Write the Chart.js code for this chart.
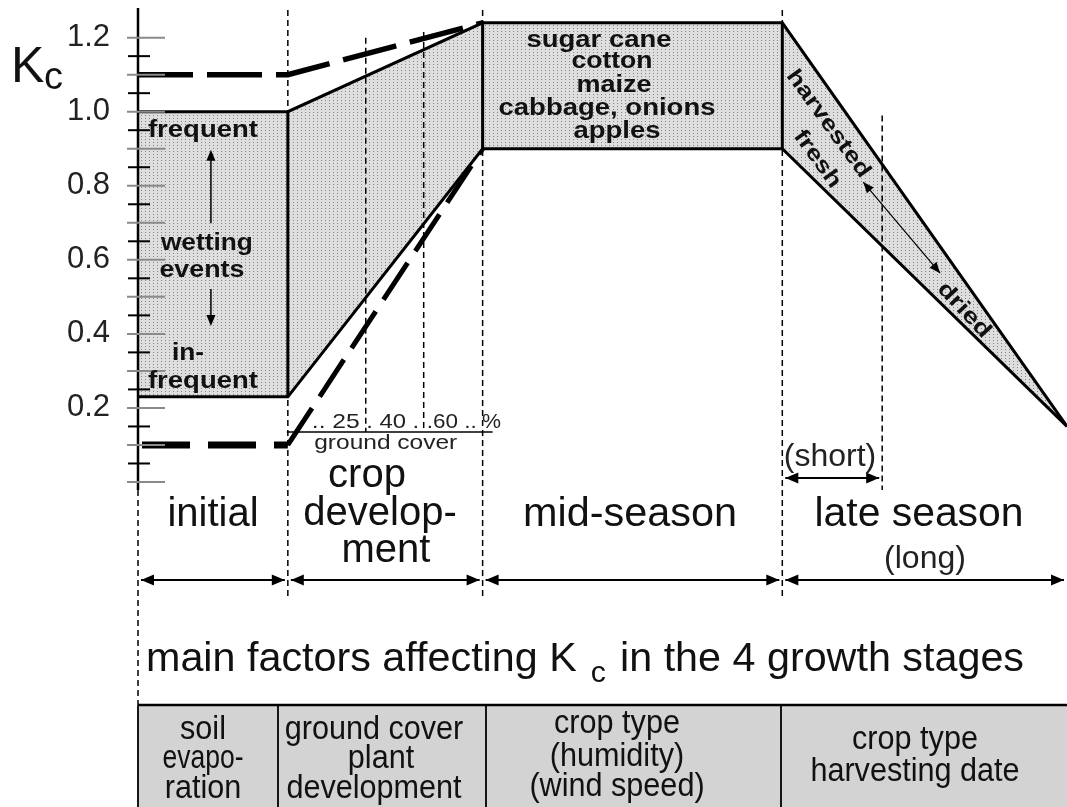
<!DOCTYPE html>
<html>
<head>
<meta charset="utf-8">
<script src="https://cdn.jsdelivr.net/npm/chart.js@4.4.1/dist/chart.umd.min.js"></script>
<style>
  html, body { margin: 0; padding: 0; background: #fff; }
  #wrap { width: 1067px; height: 807px; position: relative; }
</style>
</head>
<body>
<div id="wrap"><canvas id="kc"></canvas></div>
<script>
// --- data (x in arbitrary season units, y = Kc) ---
const stageEdges = [0, 15, 34.5, 64.5, 93];
const shortLateEnd = 74.5;
const kcTopX = [0, 15, 34.5, 64.5, 93];
const kcTop  = [1.00, 1.00, 1.24, 1.24, 0.15];
const kcBotX = [0, 15, 34.5, 64.5, 93];
const kcBot  = [0.23, 0.23, 0.90, 0.90, 0.15];
const wetDashX = [0, 15, 34.5];
const wetDash  = [1.10, 1.10, 1.24];
const dryDashX = [0, 15];
const dryDash  = [0.10, 0.10];
const dryRiseX = [15, 34.5];
const dryRise  = [0.10, 0.90];
const coverX = [22.8, 28.6, 34.5];
const coverLabels = ['.. 25', '. 40 .', '.60 ..', '%'];
const yTickLabels = ['0.2', '0.4', '0.6', '0.8', '1.0', '1.2'];
const stageLabels = [['initial'], ['crop', 'develop-', 'ment'], ['mid-season'], ['late season']];
const midCrops = ['sugar cane', 'cotton', 'maize', 'cabbage, onions', 'apples'];
const factorRows = [
  ['soil', 'evapo-', 'ration'],
  ['ground cover', 'plant', 'development'],
  ['crop type', '(humidity)', '(wind speed)'],
  ['crop type', 'harvesting date']
];

const FONT = '"Liberation Sans", Arial, Helvetica, sans-serif';

// --- drawing helpers ---
function txt(ctx, s, x, y, size, o) {
  o = o || {};
  ctx.save();
  ctx.font = (o.bold ? 'bold ' : '') + size + 'px ' + FONT;
  ctx.fillStyle = o.color || '#111';
  ctx.textBaseline = o.baseline || 'alphabetic';
  const w = ctx.measureText(s).width;
  const sx = o.width ? o.width / w : (o.sx || 1);
  ctx.translate(x, y);
  if (o.rot) ctx.rotate(o.rot);
  ctx.scale(sx, 1);
  const a = o.align || 'center';
  ctx.fillText(s, a === 'center' ? -w / 2 : a === 'right' ? -w : 0, 0);
  ctx.restore();
}

function seg(ctx, x1, y1, x2, y2, w, color, dash) {
  ctx.save();
  ctx.beginPath();
  ctx.lineWidth = w;
  ctx.strokeStyle = color || '#000';
  ctx.setLineDash(dash || []);
  ctx.moveTo(x1, y1);
  ctx.lineTo(x2, y2);
  ctx.stroke();
  ctx.restore();
}

function head(ctx, x, y, ang, len, half) {
  ctx.save();
  ctx.translate(x, y);
  ctx.rotate(ang);
  ctx.beginPath();
  ctx.moveTo(0, 0);
  ctx.lineTo(-len, -half);
  ctx.lineTo(-len, half);
  ctx.closePath();
  ctx.fillStyle = '#000';
  ctx.fill();
  ctx.restore();
}

function dbl(ctx, x1, y1, x2, y2, w, len, half) {
  seg(ctx, x1, y1, x2, y2, w);
  const a = Math.atan2(y2 - y1, x2 - x1);
  head(ctx, x2, y2, a, len, half);
  head(ctx, x1, y1, a + Math.PI, len, half);
}

function dots() {
  const c = document.createElement('canvas');
  c.width = 4; c.height = 3;
  const g = c.getContext('2d');
  g.fillStyle = '#dedede';
  g.fillRect(0, 0, 4, 3);
  g.fillStyle = '#858585';
  g.fillRect(1, 1, 1, 1);
  return g.createPattern(c, 'repeat');
}

// --- annotations, axis, stage labels, table ---
const kcDrawing = {
  id: 'kcDrawing',
  afterDatasetsDraw(chart) {
    const ctx = chart.ctx, area = chart.chartArea;
    const xs = chart.scales.x, ys = chart.scales.y;
    const X = v => xs.getPixelForValue(v);
    const Y = v => ys.getPixelForValue(v);
    const ax = X(0);
    const DASH = [6, 4];

    // dashed dividers
    stageEdges.slice(1, 4).forEach(e => seg(ctx, X(e), 10, X(e), 600, 1.5, '#000', DASH));
    seg(ctx, X(shortLateEnd), Y(0.99), X(shortLateEnd), 490, 1.5, '#000', DASH);
    seg(ctx, X(coverX[0]), Y(1.2), X(coverX[0]), Y(0.135), 1.5, '#000', DASH);
    seg(ctx, X(coverX[1]), Y(1.215), X(coverX[1]), Y(0.135), 1.5, '#000', DASH);

    // y axis with crossing ticks
    seg(ctx, ax, area.top, ax, area.bottom + 8, 2.5);
    seg(ctx, ax, area.bottom + 8, ax, 706, 1.5, '#000', DASH);
    ys.ticks.forEach(t => {
      const n = t.value * 20;
      if (Math.abs(n - Math.round(n)) > 1e-6) return;
      const y = Y(t.value);
      if (Math.round(n) % 2 === 0) seg(ctx, ax - 11, y, ax + 27, y, 2, '#8a8a8a');
      else seg(ctx, ax - 10, y, ax + 12, y, 2, '#000');
    });
    yTickLabels.forEach(l => txt(ctx, l, ax - 28, Y(parseFloat(l)), 31, { align: 'right', baseline: 'middle', color: '#222' }));
    txt(ctx, 'K', 11, 82, 50, { align: 'left' });
    txt(ctx, 'c', 44, 89, 38, { align: 'left' });

    // initial stage notes
    txt(ctx, 'frequent', X(6.5), Y(0.932), 23, { bold: true, width: 110 });
    txt(ctx, 'wetting', X(6.9), Y(0.627), 23, { bold: true, width: 92 });
    txt(ctx, 'events', X(6.4), Y(0.554), 23, { bold: true, width: 85 });
    txt(ctx, 'in-', X(5.0), Y(0.329), 23, { bold: true, width: 32 });
    txt(ctx, 'frequent', X(6.5), Y(0.254), 23, { bold: true, width: 110 });
    seg(ctx, X(7.3), Y(0.699), X(7.3), Y(0.87), 1.5);
    head(ctx, X(7.3), Y(0.897), -Math.PI / 2, 11, 4.5);
    seg(ctx, X(7.3), Y(0.521), X(7.3), Y(0.45), 1.5);
    head(ctx, X(7.3), Y(0.421), Math.PI / 2, 11, 4.5);

    // mid-season crops
    const midPos = [[46.15, 1.175, 145], [47.45, 1.118, 81], [47.65, 1.053, 75], [46.95, 0.991, 217], [47.95, 0.929, 87]];
    midCrops.forEach((c, i) => txt(ctx, c, X(midPos[i][0]), Y(midPos[i][1]), 23, { bold: true, width: midPos[i][2] }));

    // late season notes
    const r54 = 54 * Math.PI / 180, r47 = 47 * Math.PI / 180;
    txt(ctx, 'harvested', X(69.1), Y(0.967), 22, { bold: true, width: 128, rot: r54, baseline: 'middle' });
    txt(ctx, 'fresh', X(68.0), Y(0.872), 22, { bold: true, width: 66, rot: r54, baseline: 'middle' });
    txt(ctx, 'dried', X(82.7), Y(0.464), 22, { bold: true, width: 68, rot: r47, baseline: 'middle' });
    dbl(ctx, X(72.6), Y(0.81), X(80.3), Y(0.564), 1.2, 11, 4.5);

    // ground cover scale
    seg(ctx, X(14.9), Y(0.135), X(35.5), Y(0.135), 1.5);
    const coverPos = [[19.8, 48], [25.5, 53], [31.4, 50], [35.4, 19]];
    coverLabels.forEach((l, i) => txt(ctx, l, X(coverPos[i][0]), Y(0.146), 21, { width: coverPos[i][1], color: '#222' }));
    txt(ctx, 'ground cover', X(24.8), Y(0.089), 21, { width: 143, color: '#222' });

    // stage names
    txt(ctx, stageLabels[0][0], 213, 526, 40);
    txt(ctx, stageLabels[1][0], 367, 487, 40);
    txt(ctx, stageLabels[1][1], 380, 525, 40);
    txt(ctx, stageLabels[1][2], 386, 562, 40);
    txt(ctx, stageLabels[2][0], 630, 526, 40, { width: 214 });
    txt(ctx, stageLabels[3][0], 919, 526, 40, { width: 209 });
    txt(ctx, '(long)', 925, 568, 32, { color: '#222' });
    txt(ctx, '(short)', 830, 466, 32, { color: '#222' });
    dbl(ctx, X(stageEdges[3]) + 3, 478, X(shortLateEnd) - 3, 478, 2, 13, 5.5);
    for (let i = 0; i < 4; i++) {
      dbl(ctx, X(stageEdges[i]) + 3, 580, X(stageEdges[i + 1]) - 3, 580, 2, 13, 5.5);
    }

    // title with subscript, squeezed to the reference width
    ctx.save();
    const a = 'main factors affecting K', b = 'c', c = 'in the 4 growth stages';
    ctx.font = '41px ' + FONT;
    const wa = ctx.measureText(a).width, wc = ctx.measureText(c).width;
    ctx.font = '30px ' + FONT;
    const wb = ctx.measureText(b).width;
    const gap = 14;
    const sx = 878 / (wa + wb + wc + 2 * gap);
    ctx.translate(146, 671);
    ctx.scale(sx, 1);
    ctx.fillStyle = '#111';
    ctx.font = '41px ' + FONT;
    ctx.fillText(a, 0, 0);
    ctx.fillText(c, wa + gap + wb + gap, 0);
    ctx.font = '30px ' + FONT;
    ctx.fillText(b, wa + gap, 11);
    ctx.restore();

    // factor table
    const cols = [ax, 278, 486, 781, chart.width];
    ctx.fillStyle = '#d3d3d3';
    ctx.fillRect(ax, 706, cols[4] - ax, chart.height - 706);
    seg(ctx, ax, 705, cols[4], 705, 2.5, '#000');
    cols.slice(0, 4).forEach(x => seg(ctx, x, 706, x, chart.height, 1.8, '#000'));
    const cellX = [[203, 203, 203], [374, 381, 374], [617, 617, 617], [915, 915]];
    const cellY = [[739, 768, 798], [739, 768, 798], [733, 766, 796], [749, 781]];
    factorRows.forEach((rows, i) => rows.forEach((r, j) =>
      txt(ctx, r, cellX[i][j], cellY[i][j], 34, i === 0 && j === 1 ? { width: 81 } : { sx: 0.9 })));
  }
};

// --- chart ---
const pts = (xv, yv) => xv.map((x, i) => ({ x: x, y: yv[i] }));
const base = { pointRadius: 0, tension: 0, clip: false, borderColor: '#000' };

const edgeSets = [1, 2, 3].map(i => Object.assign({}, base, {
  label: 'edge ' + i,
  data: [{ x: kcTopX[i], y: kcBot[i] }, { x: kcTopX[i], y: kcTop[i] }],
  borderWidth: 3, fill: false, order: 0
}));

new Chart(document.getElementById('kc'), {
  type: 'line',
  data: {
    datasets: [
      Object.assign({}, base, { label: 'Kc upper', data: pts(kcTopX, kcTop), borderWidth: 3, fill: false, order: 1 }),
      Object.assign({}, base, { label: 'Kc lower', data: pts(kcBotX, kcBot), borderWidth: 3, fill: '-1', backgroundColor: dots(), order: 2 }),
      ...edgeSets,
      Object.assign({}, base, { label: 'wet soil', data: pts(wetDashX, wetDash), borderWidth: 5.5, borderDash: [55, 14], fill: false, order: 3 }),
      Object.assign({}, base, { label: 'dry soil', data: pts(dryDashX, dryDash), borderWidth: 7, borderDash: [48, 18], borderDashOffset: -4, fill: false, order: 3 }),
      Object.assign({}, base, { label: 'dry rise', data: pts(dryRiseX, dryRise), borderWidth: 5, borderDash: [44, 14], fill: false, order: 3 })
    ]
  },
  options: {
    responsive: true,
    maintainAspectRatio: false,
    animation: false,
    events: [],
    layout: { padding: { left: 138, right: 0, top: 8, bottom: 325 } },
    plugins: { legend: { display: false }, tooltip: { enabled: false } },
    scales: {
      x: { type: 'linear', min: 0, max: 93, display: false },
      y: { min: 0, max: 1.28, display: false, ticks: { stepSize: 0.05 } }
    }
  },
  plugins: [kcDrawing]
});
</script>
</body>
</html>
